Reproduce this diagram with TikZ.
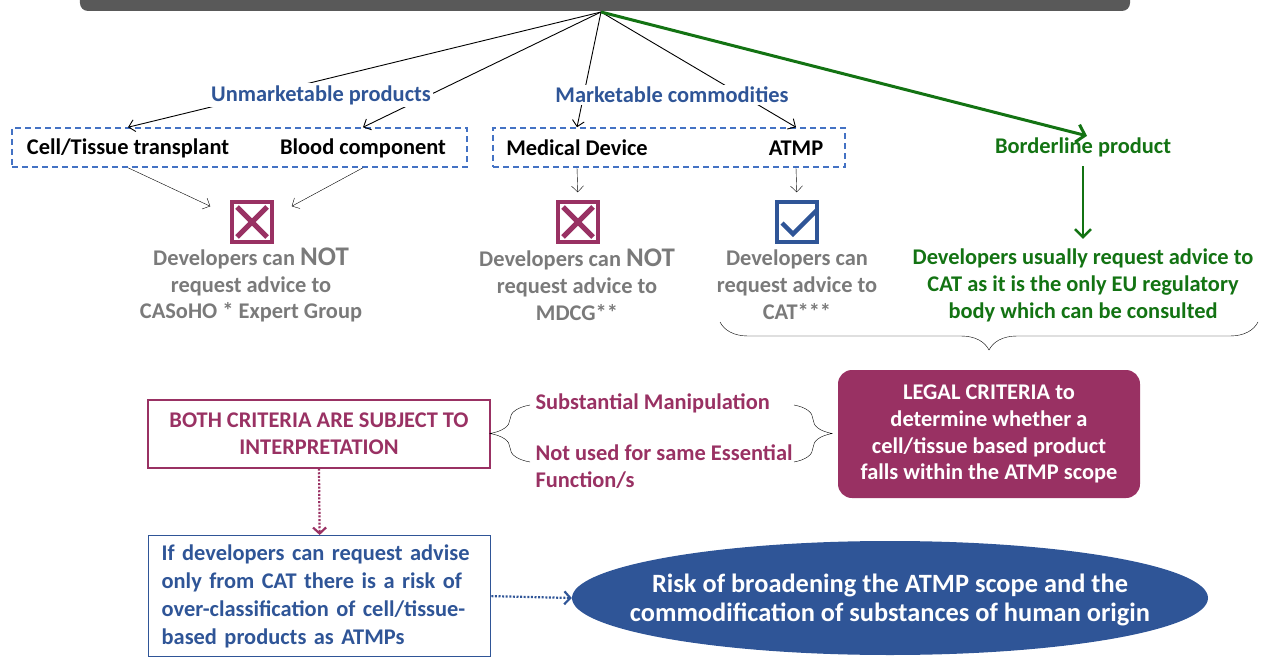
\documentclass[tikz,border=0pt]{standalone}
\usepackage{fontspec}
\setmainfont{Carlito}
\usepackage{tikz}
\usetikzlibrary{arrows.meta,shapes.geometric,decorations.pathreplacing}
\usepackage{xcolor}
\definecolor{headgray}{HTML}{595959}
\definecolor{labblue}{HTML}{2F5597}
\definecolor{dashblue}{HTML}{4472C4}
\definecolor{magc}{HTML}{993163}
\definecolor{txtgray}{HTML}{7A7A7A}
\definecolor{greenc}{HTML}{137313}

\begin{document}
\begin{tikzpicture}[x=1bp, y=-1bp, >={Straight Barb[length=6bp,width=12bp]},
  every node/.style={align=center, font=\bfseries\fontsize{22.5}{27}\selectfont},
  crossbox/.style={draw=magc, line width=3.5bp, minimum size=40bp, inner sep=0pt,
    path picture={\draw[magc, line width=5bp]
      ([shift={(5bp,-5bp)}]path picture bounding box.north west) -- ([shift={(-5bp,5bp)}]path picture bounding box.south east)
      ([shift={(-5bp,-5bp)}]path picture bounding box.north east) -- ([shift={(5bp,5bp)}]path picture bounding box.south west);}},
  checkbox/.style={draw=labblue, line width=3.5bp, minimum size=40bp, inner sep=0pt,
    path picture={\draw[labblue, line width=4.5bp]
      ([shift={(5bp,-21bp)}]path picture bounding box.north west) -- ([shift={(16bp,-32bp)}]path picture bounding box.north west)
      -- ([shift={(0bp,-8bp)}]path picture bounding box.north east);}},
  grpbox/.style={draw=dashblue, line width=1.5bp, dash pattern=on 6bp off 4bp, minimum height=39bp},
  lab/.style={text=labblue, fill=white, inner sep=2bp},
  dotarrow/.style={->, line width=2.2bp, dash pattern=on 2bp off 1.6bp, >={Straight Barb[length=6bp,width=13bp]}}]
  \useasboundingbox (0,0) rectangle (1268,657);
  \clip (0,0) rectangle (1268,657);

  % top box (cut off by the frame)
  \node[fill=headgray, rounded corners=8bp, minimum width=1050bp, minimum height=42bp] (head) at (605,-10) {};
  \coordinate (apex) at (601,12);

  % product groups
  \node[grpbox, minimum width=455bp] (grp1) at (239.5,147.5) {};
  \node[grpbox, minimum width=352bp] (grp2) at (669,147.5) {};
  \node (ct) at (128,148) {Cell/Tissue transplant};
  \node (bc) at (363,148) {Blood component};
  \node (md) at (577,148) {Medical Device};
  \node (atmp) at (796,148) {ATMP};
  \node[text=greenc] (border) at (1083,147) {Borderline product};

  \draw[->, line width=0.9bp] (apex) -- (ct.north |- grp1.north);
  \draw[->, line width=0.9bp] (apex) -- (bc.north |- grp1.north);
  \draw[->, line width=0.9bp] (apex) -- (md.north |- grp2.north);
  \draw[->, line width=0.9bp] (apex) -- (atmp.north |- grp2.north);
  \draw[->, greenc, line width=3bp, >={Straight Barb[length=8bp,width=18bp]}] (apex) -- ([shift={(4bp,-2bp)}]border.north);

  \node[lab] (unm) at (321,95) {Unmarketable products};
  \node[lab] (mkt) at (672,95) {Marketable commodities};

  % advice outcome
  \node[crossbox] (x1) at (252,222) {};
  \node[crossbox] (x2) at (578,222) {};
  \node[checkbox] (ok) at (797,222) {};
  \draw[->] (ct.south |- grp1.south) -- ([shift={(-20bp,-6bp)}]x1.north west);
  \draw[->] (bc.south |- grp1.south) -- ([shift={(18bp,-6bp)}]x1.north east);
  \draw[->, shorten >=8bp] (md.south |- grp2.south) -- (x2.north);
  \draw[->, shorten >=8bp] (atmp.south |- grp2.south) -- (ok.north);

  \node[text=txtgray] (adv1) at (251,285) {Developers can {\fontsize{27}{27}\selectfont NOT}\\request advice to\\CASoHO * Expert Group};
  \node[text=txtgray] (adv2) at (577,285) {Developers can {\fontsize{27}{27}\selectfont NOT}\\request advice to\\MDCG**};
  \node[text=txtgray] (adv3) at (797,285) {Developers can\\request advice to\\CAT***};
  \node[text=greenc] (adv4) at (1083,285) {Developers usually request advice to\\CAT as it is the only EU regulatory\\body which can be consulted};
  \draw[->, greenc, line width=2.5bp, >={Straight Barb[length=8bp,width=16bp]}, shorten <=6bp, shorten >=6bp] (border.south) -- (adv4.north);

  \draw[decorate, decoration={brace, mirror, amplitude=28bp}] (720,322) -- (1258,322);

  % legal criteria
  \node[fill=magc, rounded corners=14bp, minimum width=302bp, minimum height=128bp, text=white] (legal) at (989,434) {LEGAL CRITERIA to\\determine whether a\\cell/tissue based product\\falls within the ATMP scope};
  \node[draw=magc, line width=1.3bp, minimum width=342bp, minimum height=68bp, text=magc] (both) at (319,434) {BOTH CRITERIA ARE SUBJECT TO\\INTERPRETATION};
  \node[text=magc, anchor=west] (subst) at (532,403) {Substantial Manipulation};
  \node[text=magc, anchor=west, align=left] (func) at (532,466.5) {Not used for same Essential\\Function/s};
  \draw[decorate, decoration={brace, amplitude=40bp}] (530,462) -- (530,405);
  \draw[decorate, decoration={brace, amplitude=38bp}] (794,405) -- (794,462);

  % risk
  \node[draw=labblue, line width=1.3bp, text=labblue, align=left, anchor=north west, inner xsep=13bp, inner ysep=9bp, minimum width=342bp, text width=316bp, font=\bfseries\fontsize{22.5}{28}\selectfont] (risk) at (148,535) {If developers can request advise\\only from CAT there is a risk of\\over-classification of cell/tissue-\\based products as ATMPs};
  \node[ellipse, fill=labblue, minimum width=636bp, minimum height=114bp, inner sep=0pt] (ell) at (890,598) {};
  \node[text=white, font=\bfseries\fontsize{26.5}{30}\selectfont] (elltxt) at ([yshift=-2bp]ell.center) {Risk of broadening the ATMP scope and the\\commodification of substances of human origin};
  \draw[dotarrow, magc] (both.south) -- (risk.north);
  \draw[dotarrow, labblue] (risk.east) -- (ell.west);
\end{tikzpicture}
\end{document}
